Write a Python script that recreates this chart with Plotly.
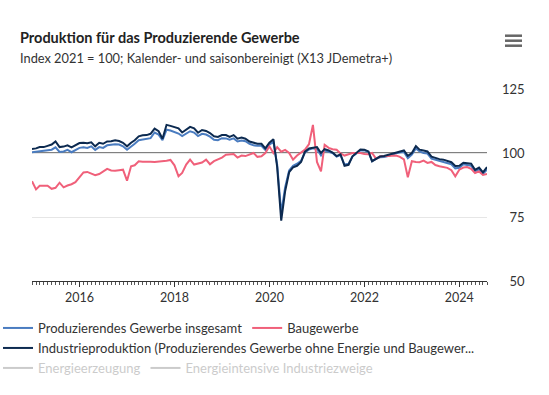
import pandas as pd
import plotly.graph_objects as go

months = pd.date_range("2015-01-01", periods=116, freq="MS")

produzierendes_gewerbe = [
    100.3, 100.5, 100.9, 100.9, 101.2, 101.3, 102.2, 100.4, 100.6, 101.2, 100.3, 101.0,
    102.0, 102.2, 102.0, 102.6, 101.2, 102.3, 102.0, 103.0, 103.2, 103.4, 103.3, 102.6,
    101.3, 102.4, 103.6, 105.0, 105.3, 105.4, 105.8, 108.0, 107.2, 105.0, 109.1, 108.8,
    108.3, 107.6, 106.6, 107.6, 108.5, 108.0, 106.6, 107.5, 107.2, 106.4, 105.2, 105.0,
    105.8, 105.7, 105.2, 105.7, 104.5, 104.9, 104.6, 103.6, 103.0, 102.8, 102.8, 101.2,
    103.2, 104.4, 95.5, 76.5, 86.5, 93.2, 95.0, 95.8, 97.0, 100.2, 101.4, 101.8,
    101.5, 99.0, 101.0, 100.5, 100.0, 98.6, 99.2, 95.5, 95.8, 98.6, 99.8, 101.0,
    101.0, 100.4, 96.8, 97.8, 98.3, 98.4, 98.8, 99.4, 99.9, 100.2, 100.4, 98.0,
    99.4, 101.8, 100.6, 100.0, 99.8, 97.8, 97.4, 96.9, 96.6, 96.0, 95.6, 94.0,
    94.2, 95.6, 95.3, 95.0, 92.8, 93.6, 91.8, 93.6,
]

baugewerbe = [
    89.0, 85.8, 87.2, 87.3, 87.2, 86.0, 86.4, 88.4, 86.6, 87.3, 87.8, 88.6,
    90.5, 92.4, 92.6, 91.8, 91.3, 91.8, 92.9, 93.8, 93.2, 93.1, 93.3, 93.5,
    89.2, 94.8, 95.2, 96.8, 96.6, 96.7, 96.6, 96.5, 96.6, 96.7, 97.0, 97.3,
    95.2, 90.9, 92.2, 95.5, 97.4, 95.5, 96.0, 96.3, 97.4, 95.6, 96.8, 97.5,
    98.2, 99.3, 99.5, 99.6, 98.2, 99.0, 98.8, 99.4, 100.0, 98.5, 98.7, 100.0,
    102.6, 100.0, 102.3, 100.5, 101.2, 100.0, 97.4, 99.0, 100.0, 101.3, 103.5, 111.0,
    96.5, 92.8, 103.2, 102.0, 101.5, 101.3, 99.8, 99.0, 99.5, 100.0, 100.0, 100.0,
    99.6, 99.5, 100.0, 97.7, 98.7, 98.9, 98.8, 98.9, 99.0, 98.5, 97.5, 90.5,
    96.8, 96.5, 96.4, 97.0, 96.1, 96.5, 95.3, 94.8, 94.5, 94.2, 93.3, 90.9,
    93.5, 94.3, 94.5, 93.8, 92.2, 92.8, 91.4, 91.8,
]

industrieproduktion = [
    101.6, 101.8, 102.3, 102.3, 102.8, 103.3, 104.5, 102.3, 102.5, 103.0, 102.2, 103.0,
    103.9, 104.0, 103.8, 104.2, 102.6, 104.0, 103.6, 104.5, 104.6, 105.0, 104.7, 104.0,
    102.6, 104.0, 105.0, 106.5, 106.9, 107.0, 107.5, 109.5, 108.5, 105.6, 111.0, 110.6,
    110.2, 109.6, 108.0, 109.0, 110.2, 109.6, 107.9, 109.0, 108.6, 107.8, 106.5, 106.3,
    107.0, 107.0, 106.3, 107.0, 105.6, 106.0, 105.6, 104.5, 104.0, 103.6, 103.6, 101.8,
    104.0, 105.4, 94.5, 73.6, 85.0, 92.5, 94.4, 95.0, 96.5, 100.5, 101.8, 102.0,
    102.3, 100.0, 101.5, 101.0, 100.2, 98.8, 99.5, 95.0, 95.4, 98.7, 100.0, 101.4,
    101.3, 100.6, 96.8, 97.8, 98.6, 98.8, 99.2, 99.8, 100.3, 100.6, 101.0, 98.9,
    100.0, 102.7, 101.3, 101.0, 100.6, 98.6, 98.0, 97.6, 97.4, 96.8, 96.4, 94.9,
    95.0, 96.2, 96.0, 95.8, 93.4, 94.3, 92.4, 94.5,
]

# hidden series (shown only in the legend, values not visible in the chart)
energieerzeugung = [None]
energieintensive = [None]

y_ticks = [50, 75, 100, 125]
y_ticktext = ["\u200750", "\u200775", "100", "125"]

FONT = "Lato"
fig = go.Figure()

fig.add_trace(go.Scatter(x=months, y=produzierendes_gewerbe, mode="lines",
                         name="Produzierendes Gewerbe insgesamt",
                         line=dict(color="#4a7cc0", width=2), legend="legend"))
fig.add_trace(go.Scatter(x=months, y=baugewerbe, mode="lines", name="Baugewerbe",
                         line=dict(color="#f0607a", width=2), legend="legend"))
fig.add_trace(go.Scatter(x=months, y=industrieproduktion, mode="lines",
                         name="Industrieproduktion (Produzierendes Gewerbe ohne Energie und Baugewer...",
                         line=dict(color="#0c2a50", width=2), legend="legend2"))
fig.add_trace(go.Scatter(x=months[:len(energieerzeugung)], y=energieerzeugung, mode="lines",
                         name="Energieerzeugung", visible="legendonly",
                         line=dict(color="#999999", width=2), legend="legend3"))
fig.add_trace(go.Scatter(x=months[:len(energieintensive)], y=energieintensive, mode="lines",
                         name="Energieintensive Industriezweige", visible="legendonly",
                         line=dict(color="#999999", width=2), legend="legend3"))

def px_x(px):
    return (px - 32) / 455.0

def px_y(py):
    return (281 - py) / 192.0

legend_common = dict(orientation="h", xanchor="left", yanchor="middle", x=px_x(-2),
                     bgcolor="rgba(0,0,0,0)", itemclick=False, itemdoubleclick=False)

fig.update_layout(
    width=549, height=395,
    margin=dict(l=32, r=62, t=89, b=114, autoexpand=False),
    paper_bgcolor="white", plot_bgcolor="white",
    font=dict(family=FONT, size=13, color="#333333"),
    showlegend=True,
    legend=dict(**legend_common, y=px_y(328), font=dict(family=FONT, size=13, color="#333333")),
    legend2=dict(**legend_common, y=px_y(348), font=dict(family=FONT, size=13, color="#333333")),
    legend3=dict(**legend_common, y=px_y(368), font=dict(family=FONT, size=13, color="#999999")),
    xaxis=dict(
        type="date", range=["2015-01-01", "2024-08-01"],
        dtick="M24", tick0="2016-01-01", tickformat="%Y",
        ticks="outside", ticklen=5, tickcolor="#333333", tickwidth=1,
        minor=dict(dtick="M1", ticks="outside", ticklen=3, tickcolor="#555555", tickwidth=1, showgrid=False),
        showline=True, linecolor="#333333", linewidth=1,
        showgrid=False, zeroline=False,
        tickfont=dict(family=FONT, size=12.5, color="#333333"),
    ),
    yaxis=dict(
        side="right", range=[50, 125], tickvals=y_ticks, ticktext=y_ticktext,
        showgrid=True, gridcolor="#e6e6e6", gridwidth=1, zeroline=False,
        showline=False, ticks="", ticklabelstandoff=14,
        tickfont=dict(family=FONT, size=13, color="#333333"),
    ),
    shapes=[
        dict(type="line", xref="paper", yref="y", x0=0, x1=1, y0=100, y1=100,
             line=dict(color="#000000", width=1), layer="below"),
        dict(type="line", xref="paper", yref="paper", x0=px_x(505), x1=px_x(522), y0=px_y(35.7), y1=px_y(35.7),
             line=dict(color="#666666", width=2.5)),
        dict(type="line", xref="paper", yref="paper", x0=px_x(505), x1=px_x(522), y0=px_y(40.7), y1=px_y(40.7),
             line=dict(color="#666666", width=2.5)),
        dict(type="line", xref="paper", yref="paper", x0=px_x(505), x1=px_x(522), y0=px_y(45.7), y1=px_y(45.7),
             line=dict(color="#666666", width=2.5)),
    ],
    annotations=[
        dict(text="<b>Produktion für das Produzierende Gewerbe</b>", xref="paper", yref="paper",
             x=px_x(18), y=px_y(37), xanchor="left", yanchor="middle", showarrow=False,
             font=dict(family=FONT, size=14.5, color="#222222")),
        dict(text="Index 2021 = 100; Kalender- und saisonbereinigt (X13 JDemetra+)", xref="paper", yref="paper",
             x=px_x(18), y=px_y(58), xanchor="left", yanchor="middle", showarrow=False,
             font=dict(family=FONT, size=12.8, color="#333333")),
    ],
)

fig.write_html("out.html",
               config={"displayModeBar": False},
               post_script="document.body.style.margin='0';document.body.style.overflow='hidden';")
